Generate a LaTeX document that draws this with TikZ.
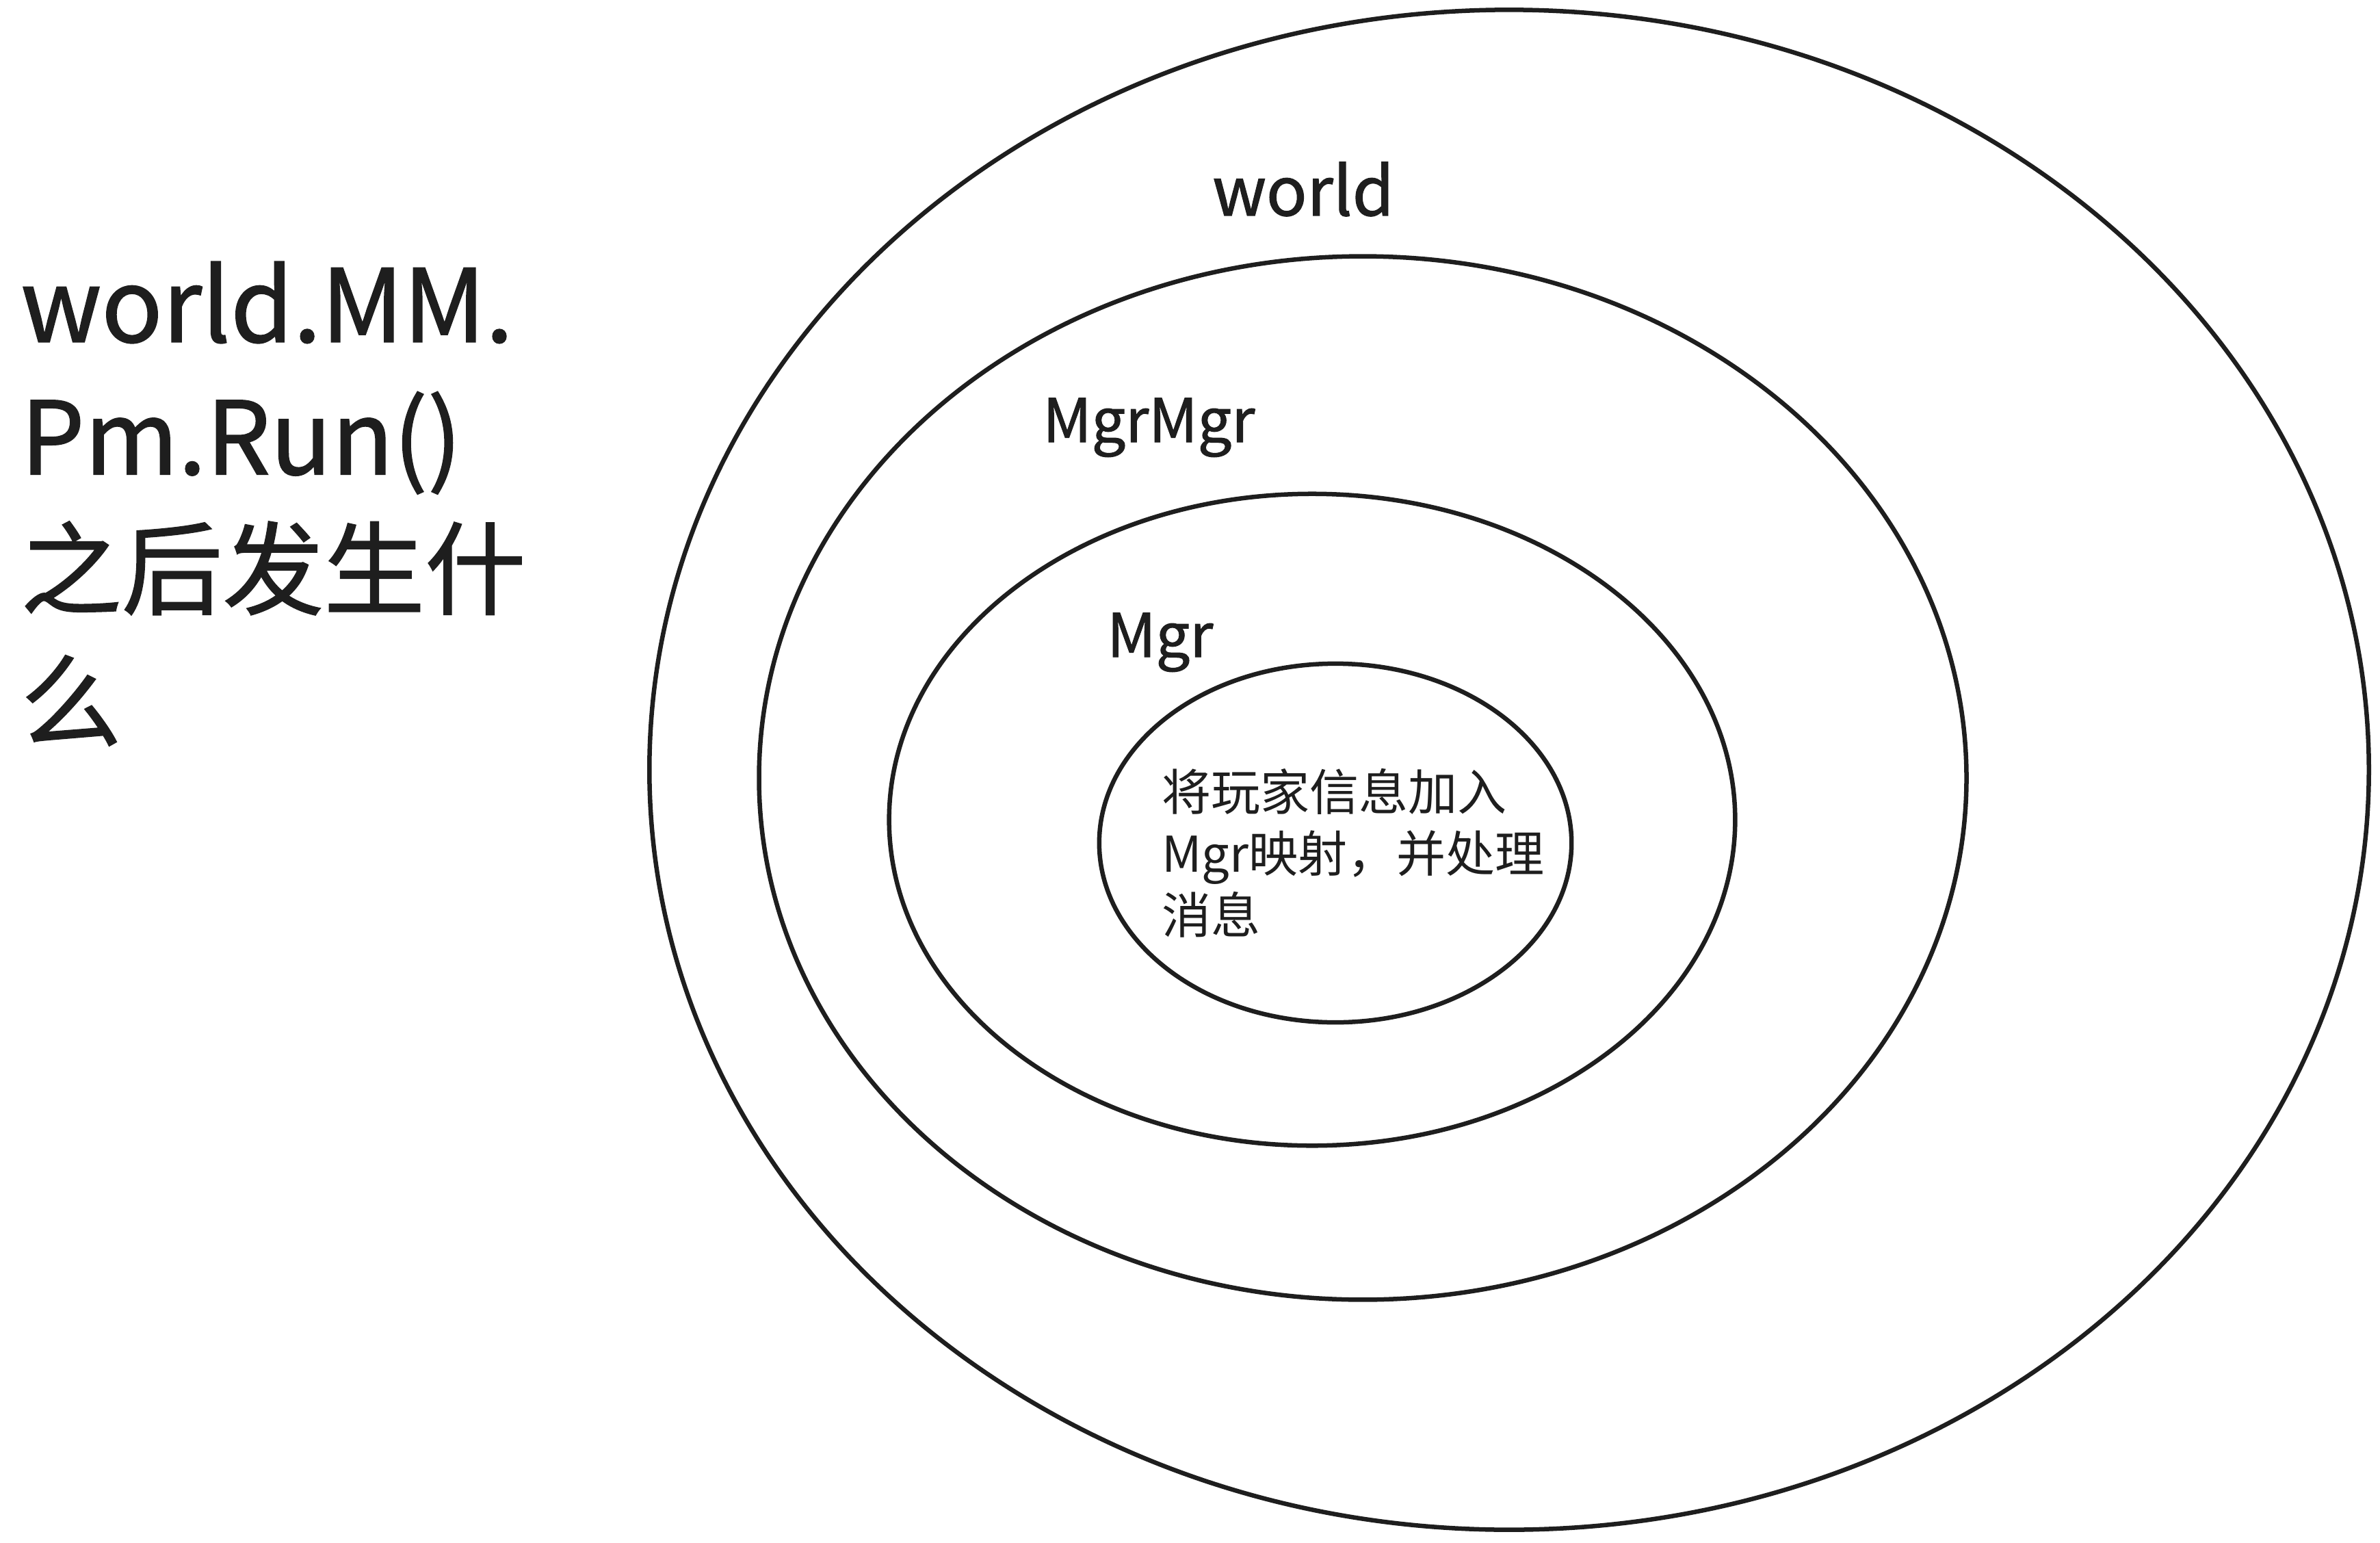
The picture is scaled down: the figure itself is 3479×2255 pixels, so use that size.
\documentclass[tikz,border=0pt]{standalone}
\usepackage{fontspec}
\setmainfont{Noto Sans CJK SC}
\newfontfamily\handfont{Noto Sans CJK SC}[FakeBold=1.2]
\usepackage{tikz}
\usetikzlibrary{positioning}
\definecolor{ink}{HTML}{1E1E1E}

\begin{document}
\begin{tikzpicture}[x=0.01cm, y=-0.01cm, line width=1.85pt,
  ring/.style={draw=ink},
  lbl/.style={text=ink, inner sep=0pt, anchor=base west},
  note/.style={text=ink, inner sep=0pt, anchor=north west, align=left}]
  \useasboundingbox (0,0) rectangle (3479,2255);
  \draw[ring] (2206,1125) ellipse [x radius=12.56cm, y radius=11.10cm];% world
  \draw[ring] (1992,1137) ellipse [x radius=8.82cm, y radius=7.62cm];% MgrMgr
  \draw[ring] (1918,1198) ellipse [x radius=6.18cm, y radius=4.76cm];% Mgr
  \draw[ring] (1952,1232) ellipse [x radius=3.45cm, y radius=2.62cm];% inner
  \node[note, font=\handfont\fontsize{42}{55}\selectfont] (question) at (27,379) {world.MM.\\Pm.Run()\\之后发生什\\么};
  \node[lbl, font=\handfont\fontsize{28}{34}\selectfont] (world) at (1769,315) {world};
  \node[lbl, font=\handfont\fontsize{25}{30}\selectfont] (mgrmgr) at (1521,646) {MgrMgr};
  \node[lbl, font=\handfont\fontsize{25}{30}\selectfont] (mgr) at (1615,960) {Mgr};
  \node[note, font=\fontsize{20.5}{25.6}\selectfont] (task) at (1695,1120) {将玩家信息加入\\Mgr映射，并处理\\消息};
\end{tikzpicture}
\end{document}
